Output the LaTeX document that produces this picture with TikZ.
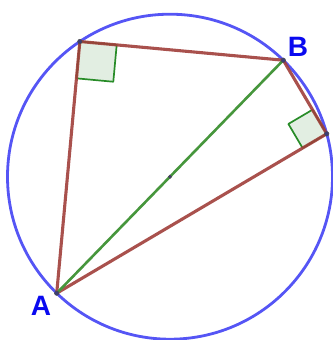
\documentclass[tikz,border=0pt]{standalone}
\usepackage{fontspec}
\setmainfont{Liberation Sans}
\usetikzlibrary{calc}
\definecolor{circblue}{RGB}{85,85,245}
\definecolor{segbrown}{RGB}{160,62,58}
\definecolor{diagreen}{RGB}{70,150,60}
\definecolor{sqgreen}{RGB}{40,140,40}
\definecolor{sqfill}{RGB}{226,238,226}
\definecolor{ptfill}{RGB}{60,60,120}
\definecolor{lblblue}{RGB}{10,10,240}
\tikzset{
  circ/.style={draw=circblue, line width=2.8pt},
  seg/.style={draw=segbrown, line width=3.1pt, line cap=round, line join=round, opacity=0.9},
  diam/.style={draw=diagreen, line width=2.6pt, line cap=round},
  rightmark/.style={draw=sqgreen, fill=sqfill, line width=1.7pt, line join=round},
  ptdot/.style={circle, fill=ptfill, draw=black!70, line width=0.5pt, inner sep=0pt, minimum size=4.5pt},
  lbl/.style={text=lblblue, font=\fontsize{28}{30}\selectfont\bfseries, inner sep=0pt}
}
\begin{document}
\begin{tikzpicture}[x=1pt, y=-1pt]
\useasboundingbox (0,0) rectangle (332,340);
\coordinate (O) at (170,176.7);
\coordinate (A) at ($(O)+(-225.8:162.5)$);
\coordinate (B) at ($(O)+(-45.8:162.5)$);
\coordinate (C) at ($(O)+(-123.7:162.5)$);
\coordinate (D) at ($(O)+(-15.3:162.5)$);
% right-angle marks
\coordinate (Cb) at ($(C)!37pt!(B)$);
\coordinate (Ca) at ($(C)!37pt!(A)$);
\coordinate (Db) at ($(D)!28pt!(B)$);
\coordinate (Da) at ($(D)!28pt!(A)$);
\draw[rightmark] (C) -- (Cb) -- ($(Cb)+(Ca)-(C)$) -- (Ca) -- cycle;
\draw[rightmark] (D) -- (Db) -- ($(Db)+(Da)-(D)$) -- (Da) -- cycle;
% circle
\draw[circ] (O) circle[radius=162.5];
% segments
\draw[seg] (A) -- (C) -- (B) -- (D) -- cycle;
\draw[diam] (A) -- (B);
% points
\node[ptdot] (pA) at (A) {};
\node[ptdot] (pB) at (B) {};
\node[ptdot] (pC) at (C) {};
\node[ptdot] (pD) at (D) {};
\node[ptdot, minimum size=3.5pt] (pO) at (O) {};
% labels
\node[lbl] (lA) at (41,305.5) {A};
\node[lbl] (lB) at (298,47) {B};
\end{tikzpicture}
\end{document}
